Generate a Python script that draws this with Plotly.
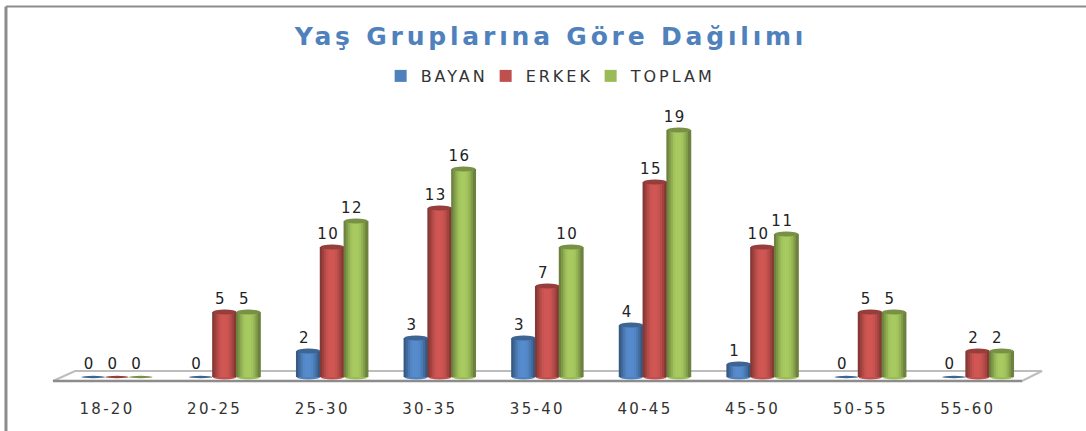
import plotly.graph_objects as go

categories = ["18-20", "20-25", "25-30", "30-35", "35-40", "40-45", "45-50", "50-55", "55-60"]
bayan = [0, 0, 2, 3, 3, 4, 1, 0, 0]
erkek = [0, 5, 10, 13, 7, 15, 10, 5, 2]
toplam = [0, 5, 12, 16, 10, 19, 11, 5, 2]

series = [
    ("BAYAN", bayan, (79, 129, 189)),
    ("ERKEK", erkek, (192, 80, 77)),
    ("TOPLAM", toplam, (155, 187, 89)),
]

W, H = 1086, 431
BOTTOM = 50
PX_X = 107.6          # px per category
PX_Y = 13.0           # px per unit
X_ZERO = 107.0
Y_ZERO = 377.0
bar_w = 23.8 / PX_X
group_shift = 10 / PX_X
label_shift = -4 / PX_X
label_lift = 4.2 / PX_Y
strips = [0.7, 0.82, 0.94, 1.04, 1.08, 1.09, 1.08, 1.04, 0.96, 0.84, 0.7]


def shade(rgb, f):
    return "rgb(%d,%d,%d)" % tuple(min(255, int(c * f)) for c in rgb)


fig = go.Figure()
shapes = []
cap_h = 2.4 / PX_Y

# floor and frame
shapes.append(dict(type="path", xref="paper", yref="paper",
                   path="M 0.0488 0.0 L 0.0691 0.0262 L 0.9595 0.0262 L 0.9411 0.0 Z",
                   fillcolor="white", line=dict(color="#bdbdbd", width=2), layer="below"))
shapes.append(dict(type="line", xref="paper", yref="paper", x0=0.0488, x1=0.9411, y0=0.0, y1=0.0,
                   line=dict(color="#8c8c8c", width=2.5), layer="below"))
shapes.append(dict(type="line", xref="paper", yref="paper", x0=0.0055, x1=1, y0=1.0 - 6.5 / 381,
                   y1=1.0 - 6.5 / 381, line=dict(color="#8c8c8c", width=2)))
shapes.append(dict(type="line", xref="paper", yref="paper", x0=0.0055, x1=0.0055, y0=1 - 6.5 / 381,
                   y1=-50 / 381, line=dict(color="#8c8c8c", width=3)))

for s, (name, vals, rgb) in enumerate(series):
    centers = [i + group_shift + (s - 1) * bar_w for i in range(len(categories))]
    n = len(strips)
    sw = bar_w / n
    for c, v in zip(centers, vals):
        if v > 0:
            shapes.append(dict(type="circle", xref="x", yref="y",
                               x0=c - bar_w / 2, x1=c + bar_w / 2, y0=-cap_h, y1=cap_h,
                               fillcolor=shade(rgb, 1.0), line=dict(width=0), layer="between"))
        shapes.append(dict(type="circle", xref="x", yref="y",
                           x0=c - bar_w / 2, x1=c + bar_w / 2, y0=v - cap_h * (1 if v else 0.5),
                           y1=v + cap_h * (1 if v else 0.5),
                           fillcolor=shade(rgb, 0.78), line=dict(width=0), layer="above"))
    for k, f in enumerate(strips):
        fig.add_trace(go.Bar(
            x=[c - bar_w / 2 + (k + 0.5) * sw for c in centers], y=vals, width=sw * 1.5,
            marker=dict(color=shade(rgb, f), line=dict(width=0)),
            showlegend=False, hoverinfo="skip"))
    fig.add_trace(go.Bar(x=[None], y=[None], name=name,
                         marker=dict(color=shade(rgb, 1.0), line=dict(width=0))))

for s, (name, vals, rgb) in enumerate(series):
    centers = [i + group_shift + (s - 1) * bar_w + label_shift for i in range(len(categories))]
    fig.add_trace(go.Scatter(x=centers, y=[v + label_lift for v in vals], mode="text",
                             text=[str(v) for v in vals],
                             textposition="top center", showlegend=False, hoverinfo="skip",
                             textfont=dict(family="DejaVu Sans", size=15, color="#222222")))

fig.update_layout(
    width=W, height=H, autosize=False,
    margin=dict(l=0, r=0, t=0, b=BOTTOM, autoexpand=False),
    paper_bgcolor="white", plot_bgcolor="rgba(0,0,0,0)",
    barmode="overlay",
    title=dict(text="<b>Yaş Gruplarına Göre Dağılımı</b>", x=0.5074, xanchor="center",
               y=1 - 36 / H, yanchor="middle",
               font=dict(family="DejaVu Sans", size=25, color="#4F81BD")),
    legend=dict(orientation="h", x=0.3505, xanchor="left", y=1 - 76 / 381, yanchor="middle",
                font=dict(family="DejaVu Sans", size=16, color="#333333"),
                itemwidth=30, entrywidth=60, entrywidthmode="pixels",
                traceorder="normal", bgcolor="rgba(0,0,0,0)"),
    shapes=shapes,
    xaxis=dict(range=[-X_ZERO / PX_X, (W - X_ZERO) / PX_X], tickmode="array",
               tickvals=list(range(len(categories))), ticktext=categories,
               ticks="outside", ticklen=14, tickcolor="rgba(0,0,0,0)", showgrid=False,
               zeroline=False, showline=False,
               tickfont=dict(family="DejaVu Sans", size=15, color="#333333")),
    yaxis=dict(range=[-(H - BOTTOM - Y_ZERO) / PX_Y, Y_ZERO / PX_Y], visible=False, showgrid=False,
               zeroline=False),
)

post = """
document.body.style.margin = '0';
var st = document.createElement('style');
st.textContent = '.gtitle{letter-spacing:3.8px} .legendtext{letter-spacing:3px} '
  + '.legend .scrollbox{clip-path:none !important} '
  + '.xtick text{letter-spacing:2.3px} .textpoint text{letter-spacing:1.5px}';
document.head.appendChild(st);
Plotly.redraw(document.getElementById('{plot_id}'));
"""
fig.write_html("out.html", post_script=post, config={"displayModeBar": False})
